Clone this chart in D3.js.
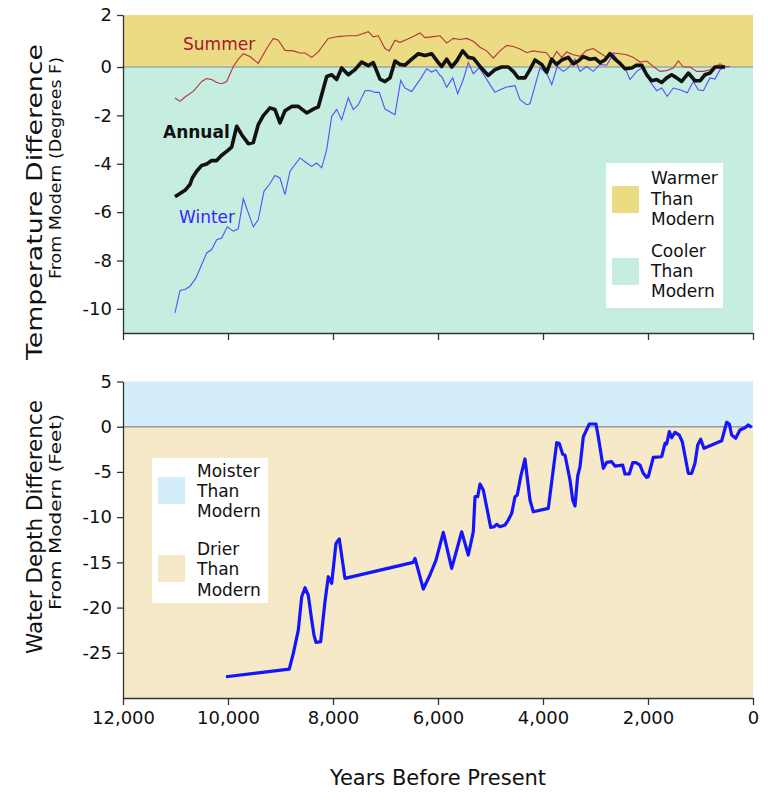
<!DOCTYPE html>
<html>
<head>
<meta charset="utf-8">
<script src="https://cdn.jsdelivr.net/npm/d3@7"></script>
<style>
  body { margin: 0; background: #fff; }
  svg text { font-family: "DejaVu Sans", Verdana, sans-serif; fill: #111; }
  .axis path, .axis line { stroke: #333; stroke-width: 1.3; }
  .axis text { font-size: 18px; fill: #111; }
</style>
</head>
<body>
<div id="chart"></div>
<script>
// temperature series (years before present, degrees F from modern)
var summerYears = [11010,10914,10819,10661,10501,10406,10311,10215,10120,10025,9899,9804,9709,9581,9423,9263,9137,9042,8914,8756,8629,8533,8406,8280,8090,7899,7709,7549,7328,7232,7137,7010,6928,6819,6724,6596,6470,6343,6248,6090,5962,5834,5709,5581,5453,5328,5200,5073,4947,4819,4692,4566,4438,4311,4185,4057,3930,3834,3739,3644,3549,3423,3295,3168,3041,2914,2787,2661,2533,2406,2279,2152,2025,1899,1771,1644,1518,1423,1328,1200,1072,946,819,724,629,533,438];
var summerTemp = [-1.28,-1.42,-1.24,-1.01,-0.60,-0.48,-0.52,-0.64,-0.69,-0.60,0.02,0.30,0.51,0.40,0.14,0.71,1.10,1.03,0.64,0.62,0.54,0.54,0.37,0.58,1.10,1.17,1.20,1.20,1.36,1.16,1.20,0.71,0.62,1.03,0.95,1.06,1.17,1.31,1.13,1.17,1.20,0.92,1.10,1.06,1.10,0.99,0.76,0.62,0.34,0.62,0.83,0.79,0.69,0.55,0.62,0.58,0.55,0.27,0.60,0.37,0.58,0.47,0.41,0.64,0.71,0.54,0.37,0.54,0.51,0.47,0.37,0.19,0.23,0.02,-0.18,-0.15,-0.04,0.23,0.00,0.00,-0.18,-0.18,-0.11,0.00,0.12,0.02,0.02];

var annualYears = [11010,10819,10724,10680,10597,10501,10406,10311,10215,10120,10025,9930,9834,9739,9613,9518,9423,9328,9200,9105,9010,8914,8787,8661,8501,8375,8280,8120,8025,7930,7835,7709,7581,7454,7328,7232,7105,7010,6914,6819,6724,6629,6501,6375,6248,6120,5994,5930,5834,5739,5644,5530,5423,5328,5200,5042,4914,4787,4661,4566,4471,4343,4248,4153,4025,3930,3834,3739,3644,3518,3423,3328,3232,3105,3010,2914,2819,2724,2629,2533,2438,2311,2215,2120,2025,1930,1834,1739,1644,1549,1454,1358,1232,1105,1010,914,819,724,629,533];
var annualTemp = [-5.37,-5.10,-4.86,-4.59,-4.31,-4.07,-4.01,-3.87,-3.87,-3.65,-3.49,-3.31,-2.45,-2.80,-3.17,-3.12,-2.38,-2.01,-1.69,-1.76,-2.31,-1.81,-1.63,-1.63,-1.90,-1.74,-1.65,-0.39,-0.32,-0.52,-0.04,-0.32,-0.11,0.19,0.05,0.17,-0.50,-0.60,-0.45,0.23,0.10,0.07,0.30,0.51,0.44,0.51,0.17,0.02,0.30,0.00,0.23,0.62,0.37,0.34,0.02,-0.35,-0.11,0.00,0.00,-0.18,-0.45,-0.45,-0.11,0.27,0.10,-0.22,0.30,0.10,0.27,0.37,0.12,0.23,0.40,0.30,0.33,0.17,0.27,0.51,0.30,0.14,-0.07,-0.04,0.07,0.07,-0.32,-0.57,-0.52,-0.64,-0.45,-0.32,-0.45,-0.60,-0.25,-0.57,-0.57,-0.32,-0.25,0.00,0.00,0.00];

var winterYears = [11010,10914,10819,10724,10610,10501,10406,10311,10215,10120,10014,9899,9804,9709,9518,9423,9315,9213,9105,9010,8914,8819,8629,8501,8406,8311,8215,8120,8025,7930,7835,7709,7613,7518,7391,7296,7201,7118,7010,6819,6711,6629,6501,6343,6215,6120,6038,5962,5930,5834,5720,5625,5518,5423,5328,5213,5105,5010,4914,4819,4692,4534,4438,4311,4248,4057,3930,3834,3728,3613,3518,3391,3295,3168,3041,2914,2787,2661,2566,2438,2343,2215,2090,1962,1834,1739,1632,1518,1391,1251,1137,1042,946,819,724,629,533,438];
var winterTemp = [-10.17,-9.24,-9.20,-9.07,-8.72,-8.17,-7.69,-7.55,-7.14,-7.07,-6.61,-6.79,-6.69,-5.45,-6.61,-6.31,-5.14,-4.86,-4.49,-4.59,-5.28,-4.31,-3.76,-3.97,-4.11,-3.97,-4.17,-3.42,-2.04,-1.76,-2.18,-1.28,-1.76,-1.56,-0.98,-0.97,-1.05,-1.05,-1.74,-1.97,-0.55,-0.87,-1.01,-0.52,-0.07,-0.21,-0.11,-0.35,-0.39,-0.84,-0.45,-1.10,-0.52,0.17,-0.28,-0.04,-0.39,-0.73,-1.05,-0.94,-0.83,-0.77,-1.35,-1.56,-1.52,-0.04,-0.25,-0.73,0.02,-0.18,-0.04,0.30,-0.18,0.02,-0.18,0.10,0.07,0.51,0.23,-0.04,-0.52,-0.18,0.00,-0.60,-0.98,-0.87,-1.21,-0.87,-0.94,-1.07,-0.60,-0.94,-0.98,-0.45,-0.50,-0.11,0.00,0.02];

// lake water depth (feet from modern)
var waterYears = [10038,8833,8756,8661,8596,8533,8471,8406,8362,8324,8235,8153,8090,8025,7943,7880,7772,6471,6438,6343,6280,6153,6038,5899,5739,5549,5423,5328,5295,5244,5200,5137,4996,4933,4882,4819,4724,4661,4596,4533,4490,4425,4343,4248,4185,3899,3739,3690,3625,3581,3486,3434,3391,3339,3295,3232,3118,2991,2947,2851,2787,2692,2629,2482,2438,2356,2291,2229,2152,2090,2025,1994,1899,1739,1676,1644,1594,1549,1486,1404,1347,1232,1168,1105,1053,996,933,596,501,451,406,330,248,152,90,25];
var waterDepth = [-27.65,-26.80,-25.07,-22.49,-18.81,-17.81,-18.62,-21.38,-23.04,-23.85,-23.78,-19.36,-16.59,-17.32,-12.90,-12.42,-16.77,-15.00,-14.56,-16.59,-17.95,-16.40,-14.75,-11.68,-15.66,-11.62,-14.19,-11.62,-7.74,-7.74,-6.34,-7.00,-11.13,-11.06,-10.80,-11.06,-10.87,-10.32,-9.58,-7.74,-7.56,-5.53,-3.57,-8.11,-9.40,-9.03,-1.77,-1.84,-3.05,-3.13,-5.89,-8.11,-8.77,-5.45,-4.42,-1.11,0.30,0.30,-1.11,-4.60,-3.94,-3.87,-4.35,-4.24,-5.23,-5.23,-3.98,-3.98,-4.24,-5.15,-5.60,-5.53,-3.38,-3.32,-1.84,-1.91,-0.55,-1.22,-0.62,-0.92,-1.66,-5.15,-5.15,-4.05,-2.02,-1.39,-2.39,-1.55,0.49,0.30,-0.92,-1.28,-0.37,-0.11,0.19,-0.07];

var yearTicks = [12000,10000,8000,6000,4000,2000,0];
var tempTicks = [2,0,-2,-4,-6,-8,-10];
var depthTicks = [5,0,-5,-10,-15,-20,-25];

var width = 768, height = 800;
var svg = d3.select("#chart").append("svg")
    .attr("width", width).attr("height", height);

var x = d3.scaleLinear().domain([12000,0]).range([123,753]);
// upper panel: spacing between 2 and 0 is a little wider in the original
var yT = d3.scaleLinear().domain([-11,0,2]).range([333,67,15]);
var yB = d3.scaleLinear().domain([-30,5]).range([698,381.5]);

function zip(xs, ys){ return xs.map(function(v,i){ return [v, ys[i]]; }); }

// ---------- temperature panel ----------
var gTop = svg.append("g");
gTop.append("rect").attr("x", x(12000)).attr("y", yT(2))
    .attr("width", x(0)-x(12000)).attr("height", yT(0)-yT(2)).attr("fill", "#ebdb82");
gTop.append("rect").attr("x", x(12000)).attr("y", yT(0))
    .attr("width", x(0)-x(12000)).attr("height", yT(-11)-yT(0)).attr("fill", "#c6eee0");
gTop.append("line").attr("x1", x(12000)).attr("x2", x(0))
    .attr("y1", yT(0)).attr("y2", yT(0)).attr("stroke", "#9aa8a8").attr("stroke-width", 1.3);

var lineT = d3.line().x(function(d){ return x(d[0]); }).y(function(d){ return yT(d[1]); });

gTop.append("path").datum(zip(summerYears, summerTemp)).attr("d", lineT)
    .attr("fill","none").attr("stroke","#b5343c").attr("stroke-width",1.1);
gTop.append("path").datum(zip(winterYears, winterTemp)).attr("d", lineT)
    .attr("fill","none").attr("stroke","#5a4cff").attr("stroke-width",1.1);
gTop.append("path").datum(zip(annualYears, annualTemp)).attr("d", lineT)
    .attr("fill","none").attr("stroke","#111").attr("stroke-width",3.6)
    .attr("stroke-linejoin","round");

gTop.append("text").attr("x",183).attr("y",50).attr("font-size",17)
    .style("fill","#a3182c").text("Summer");
gTop.append("text").attr("x",163).attr("y",138).attr("font-size",17)
    .attr("font-weight","bold").style("fill","#111").text("Annual");
gTop.append("text").attr("x",179).attr("y",223).attr("font-size",17)
    .style("fill","#3c22ff").text("Winter");

gTop.append("g").attr("class","axis")
    .attr("transform","translate(123,0)")
    .call(d3.axisLeft(yT).tickValues(tempTicks).tickSize(6).tickSizeOuter(0).tickPadding(5)
        .tickFormat(function(d){ return String(d); }));
gTop.append("g").attr("class","axis")
    .attr("transform","translate(0,333)")
    .call(d3.axisBottom(x).tickValues(yearTicks).tickSize(7).tickSizeOuter(0).tickFormat(""));

// legend
var lgT = gTop.append("g");
lgT.append("rect").attr("x",606).attr("y",163).attr("width",117).attr("height",145).attr("fill","#fff");
lgT.append("rect").attr("x",612).attr("y",186).attr("width",27).attr("height",27).attr("fill","#ebdb82");
lgT.append("rect").attr("x",612).attr("y",258).attr("width",27).attr("height",27).attr("fill","#c6eee0");
[["Warmer",184],["Than",205],["Modern",225],["Cooler",257],["Than",277],["Modern",297]].forEach(function(t){
    lgT.append("text").attr("x",651).attr("y",t[1]).attr("font-size",17).text(t[0]);
});

// ---------- water depth panel ----------
var gBot = svg.append("g");
gBot.append("rect").attr("x", x(12000)).attr("y", yB(5))
    .attr("width", x(0)-x(12000)).attr("height", yB(0)-yB(5)).attr("fill", "#d3edfb");
gBot.append("rect").attr("x", x(12000)).attr("y", yB(0))
    .attr("width", x(0)-x(12000)).attr("height", yB(-30)-yB(0)).attr("fill", "#f5e9c7");
gBot.append("line").attr("x1", x(12000)).attr("x2", x(0))
    .attr("y1", yB(0)).attr("y2", yB(0)).attr("stroke", "#999").attr("stroke-width", 1.5);

var lineB = d3.line().x(function(d){ return x(d[0]); }).y(function(d){ return yB(d[1]); });
gBot.append("path").datum(zip(waterYears, waterDepth)).attr("d", lineB)
    .attr("fill","none").attr("stroke","#1414ff").attr("stroke-width",3.2)
    .attr("stroke-linejoin","round");

gBot.append("g").attr("class","axis")
    .attr("transform","translate(123,0)")
    .call(d3.axisLeft(yB).tickValues(depthTicks).tickSize(6).tickSizeOuter(0).tickPadding(5)
        .tickFormat(function(d){ return String(d); }));
gBot.append("g").attr("class","axis")
    .attr("transform","translate(0,698)")
    .call(d3.axisBottom(x).tickValues(yearTicks).tickSize(7).tickSizeOuter(0).tickPadding(6)
        .tickFormat(d3.format(",")));

var lgB = gBot.append("g");
lgB.append("rect").attr("x",152).attr("y",458).attr("width",116).attr("height",145).attr("fill","#fff");
lgB.append("rect").attr("x",158).attr("y",477).attr("width",27).attr("height",27).attr("fill","#d3edfb");
lgB.append("rect").attr("x",158).attr("y",555).attr("width",27).attr("height",27).attr("fill","#f5e9c7");
[["Moister",477],["Than",497],["Modern",517],["Drier",555],["Than",575],["Modern",596]].forEach(function(t){
    lgB.append("text").attr("x",197).attr("y",t[1]).attr("font-size",17).text(t[0]);
});

// ---------- titles ----------
function vtitle(cx, cy, size, len, txt){
    svg.append("text").attr("transform","translate("+cx+","+cy+") rotate(-90)")
        .attr("text-anchor","middle").attr("font-size",size)
        .attr("textLength",len).attr("lengthAdjust","spacingAndGlyphs").text(txt);
}
vtitle(42, 202, 21, 316, "Temperature Difference");
vtitle(61, 168, 15, 222, "From Modern (Degrees F)");
vtitle(42, 527, 21, 254, "Water Depth Difference");
vtitle(61, 512, 15, 196, "From Modern (Feet)");

svg.append("text").attr("x",438).attr("y",785).attr("text-anchor","middle")
    .attr("font-size",21).text("Years Before Present");
</script>
</body>
</html>
